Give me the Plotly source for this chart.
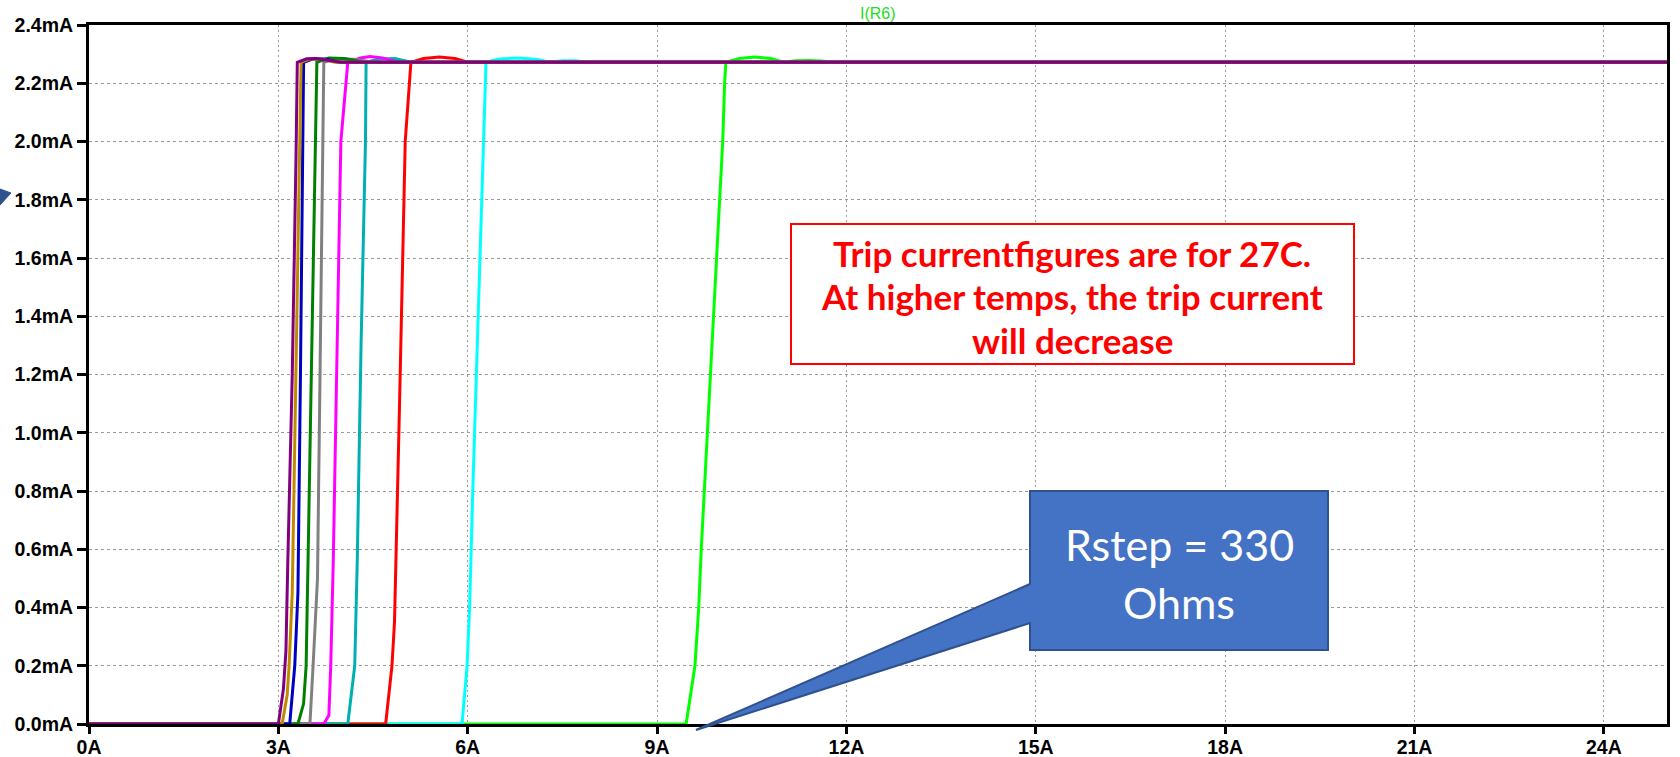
import plotly.graph_objects as go

# ---------------- data (x in A, y in mA) ----------------
green_x = [0, 9.46, 9.60, 9.66, 9.70, 9.75, 9.80, 9.85, 9.89, 9.94, 9.99, 10.04, 10.07, 10.09, 10.3, 10.55, 10.8, 11.0, 11.2, 11.4, 11.6, 11.8, 25]
green_y = [0, 0, 0.2, 0.4, 0.6, 0.8, 1.0, 1.2, 1.4, 1.6, 1.8, 2.0, 2.2, 2.272, 2.285, 2.29, 2.285, 2.272, 2.277, 2.278, 2.276, 2.272, 2.272]

cyan_x = [0, 5.91, 5.99, 6.03, 6.08, 6.14, 6.20, 6.25, 6.29, 6.5, 6.8, 7.1, 7.3, 7.5, 7.7, 7.9, 25]
cyan_y = [0, 0, 0.2, 0.4, 0.8, 1.2, 1.6, 2.0, 2.272, 2.283, 2.287, 2.282, 2.272, 2.277, 2.277, 2.272, 2.272]

red_x = [0, 4.70, 4.80, 4.84, 4.92, 5.01, 5.10, 5.3, 5.55, 5.8, 6.0, 25]
red_y = [0, 0, 0.2, 0.35, 1.1, 2.0, 2.272, 2.285, 2.29, 2.285, 2.272, 2.272]

teal_x = [0, 4.10, 4.21, 4.25, 4.31, 4.38, 4.39, 4.6, 4.85, 5.1, 25]
teal_y = [0, 0, 0.2, 0.56, 1.3, 2.0, 2.272, 2.283, 2.285, 2.272, 2.272]

magenta_x = [0, 3.72, 3.80, 3.83, 3.87, 3.93, 3.99, 4.10, 4.3, 4.45, 4.65, 4.9, 25]
magenta_y = [0, 0, 0.03, 0.2, 0.56, 1.3, 2.0, 2.272, 2.287, 2.292, 2.287, 2.272, 2.272]

gray_x = [0, 3.50, 3.55, 3.62, 3.66, 3.70, 3.72, 3.9, 4.2, 4.5, 25]
gray_y = [0, 0, 0.2, 0.5, 1.2, 2.0, 2.272, 2.283, 2.282, 2.272, 2.272]

dkgreen_x = [0, 3.31, 3.40, 3.44, 3.47, 3.53, 3.59, 3.61, 3.8, 4.05, 4.35, 25]
dkgreen_y = [0, 0, 0.07, 0.2, 0.56, 1.3, 2.0, 2.272, 2.287, 2.285, 2.272, 2.272]

blue_x = [0, 3.18, 3.26, 3.31, 3.35, 3.39, 3.40, 3.55, 3.75, 3.95, 25]
blue_y = [0, 0, 0.2, 0.45, 1.2, 2.1, 2.272, 2.284, 2.283, 2.272, 2.272]

gold_x = [0, 3.06, 3.14, 3.17, 3.22, 3.28, 3.34, 3.36, 3.5, 3.7, 3.9, 25]
gold_y = [0, 0, 0.1, 0.2, 0.45, 1.2, 2.0, 2.272, 2.284, 2.282, 2.272, 2.272]

purple_x = [0, 3.0, 3.08, 3.12, 3.15, 3.22, 3.28, 3.30, 3.45, 3.6, 3.75, 4.0, 25]
purple_y = [0, 0, 0.12, 0.25, 0.56, 1.2, 1.95, 2.272, 2.284, 2.285, 2.28, 2.272, 2.272]

x_tick_vals = [0, 3, 6, 9, 12, 15, 18, 21, 24]
x_tick_text = ["0A", "3A", "6A", "9A", "12A", "15A", "18A", "21A", "24A"]
y_tick_vals = [0.0, 0.2, 0.4, 0.6, 0.8, 1.0, 1.2, 1.4, 1.6, 1.8, 2.0, 2.2, 2.4]
y_tick_text = ["0.0mA", "0.2mA", "0.4mA", "0.6mA", "0.8mA", "1.0mA", "1.2mA",
               "1.4mA", "1.6mA", "1.8mA", "2.0mA", "2.2mA", "2.4mA"]

series = [
    (green_x, green_y, "#00ff00"),
    (cyan_x, cyan_y, "#00ffff"),
    (red_x, red_y, "#ff0000"),
    (teal_x, teal_y, "#00b0b0"),
    (magenta_x, magenta_y, "#ff00ff"),
    (gray_x, gray_y, "#808080"),
    (dkgreen_x, dkgreen_y, "#008000"),
    (blue_x, blue_y, "#0000c0"),
    (gold_x, gold_y, "#c08a00"),
    (purple_x, purple_y, "#800080"),
]

fig = go.Figure()
for xs, ys, c in series:
    fig.add_trace(go.Scatter(x=xs, y=ys, mode="lines",
                             line=dict(color=c, width=3), showlegend=False,
                             hoverinfo="skip"))

W, H = 1680, 757
L, R, T, B = 89, 13, 25, 33
pw, ph = W - L - R, H - T - B

def px(xp):
    return (xp - L) / pw

def py(yp):
    return (H - B - yp) / ph

tickfont = dict(family="Liberation Sans, Arial, sans-serif", size=19.5, color="black", weight="bold")

axis_common = dict(showgrid=True, gridcolor="#9a9a9a", gridwidth=1,
                   zeroline=False, showline=True, linecolor="black", linewidth=3,
                   mirror=True, ticks="outside", tickwidth=3,
                   tickcolor="black", tickfont=tickfont, automargin=False)

fig.update_layout(
    width=W, height=H, autosize=False,
    margin=dict(l=L, r=R, t=T, b=B, pad=0),
    paper_bgcolor="white", plot_bgcolor="white",
    xaxis=dict(range=[0, 25], tickvals=x_tick_vals, ticktext=x_tick_text,
               griddash="2px,3px", ticklen=7, ticklabelstandoff=-3, **axis_common),
    yaxis=dict(range=[0, 2.4], tickvals=y_tick_vals, ticktext=y_tick_text,
               griddash="3px,3px", ticklen=9, **axis_common),
)

# title text
fig.add_annotation(text="I(R6)", xref="paper", yref="paper",
                   x=0.5, y=py(13), xanchor="center", yanchor="middle",
                   showarrow=False,
                   font=dict(family="Liberation Sans, Arial", size=16, color="#22dd22"))

# red note box
fig.add_shape(type="rect", xref="paper", yref="paper",
              x0=px(791), x1=px(1354), y0=py(364), y1=py(224),
              line=dict(color="#ff0000", width=2), fillcolor="white", layer="above")
red_lines = ["Trip currentfigures are for 27C.",
             "At higher temps, the trip current",
             "will decrease"]
red_line_y = [253, 296, 340]
for txt, yy in zip(red_lines, red_line_y):
    fig.add_annotation(text=txt, xref="paper", yref="paper",
                       x=px(1072), y=py(yy), xanchor="center", yanchor="middle",
                       showarrow=False,
                       font=dict(family="Lato, sans-serif", size=35, color="#ff0000", weight="bold"))

# blue callout
def pp(a, b):
    return f"{px(a):.5f},{py(b):.5f}"

callout = ("M " + pp(1030, 491) + " L " + pp(1328, 491) + " L " + pp(1328, 650) +
           " L " + pp(1030, 650) + " L " + pp(1030, 623) + " L " + pp(696, 730) +
           " L " + pp(1030, 584) + " Z")
fig.add_shape(type="path", xref="paper", yref="paper", path=callout,
              fillcolor="#4472C4", line=dict(color="#2F528F", width=2), layer="above")
for txt, yy in zip(["Rstep = 330", "Ohms"], [544, 602]):
    fig.add_annotation(text=txt, xref="paper", yref="paper",
                       x=px(1179), y=py(yy), xanchor="center", yanchor="middle",
                       showarrow=False,
                       font=dict(family="Lato, sans-serif", size=43, color="white"))

# small arrow fragment at left edge
frag = "M " + pp(0, 189) + " L " + pp(11, 193) + " L " + pp(0, 205) + " Z"
fig.add_shape(type="path", xref="paper", yref="paper", path=frag,
              fillcolor="#2F528F", line=dict(color="#2F528F", width=1), layer="above")

fig.write_html("out.html", config={"displayModeBar": False},
               post_script="document.body.style.margin='0';document.body.style.overflow='hidden';")
